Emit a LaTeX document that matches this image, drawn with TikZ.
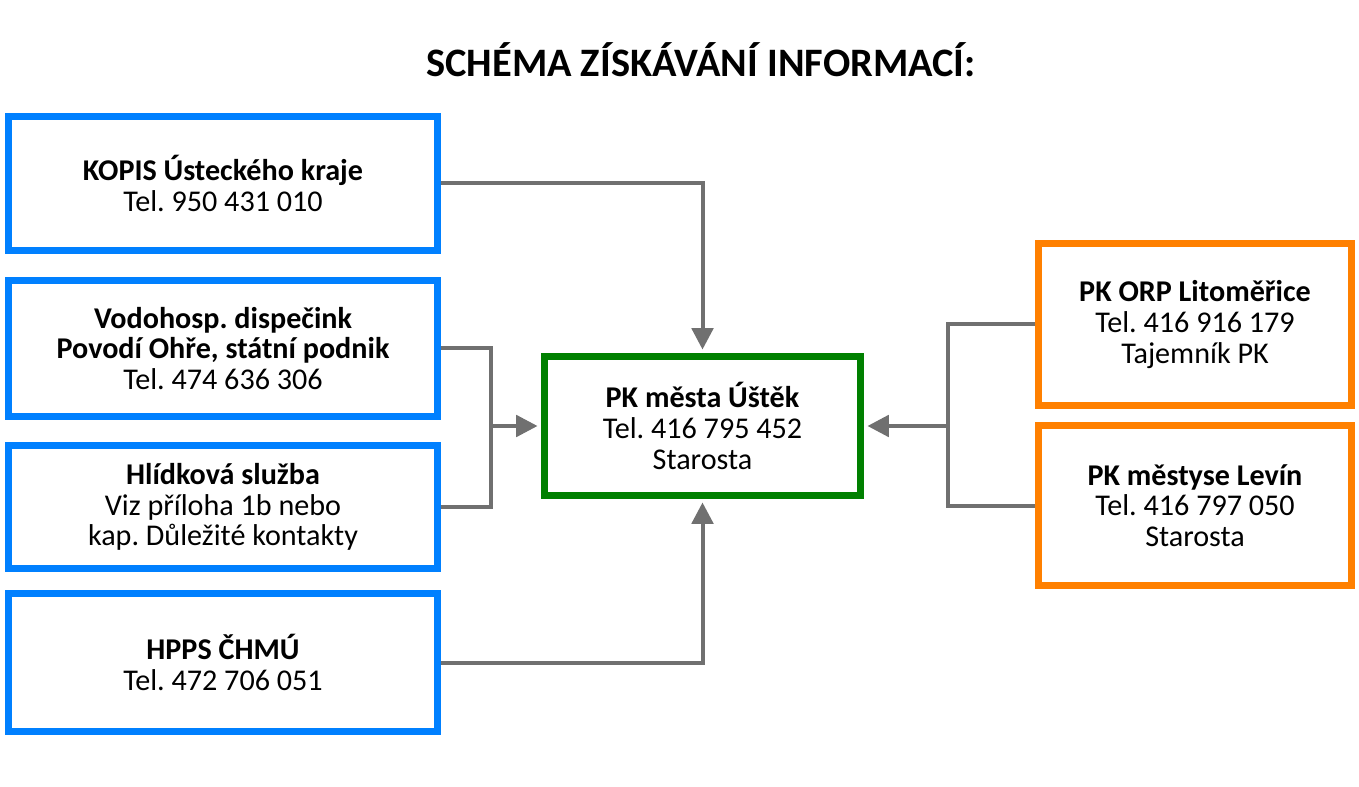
\documentclass[tikz,border=0pt]{standalone}
\usepackage{fontspec}
\setmainfont{Carlito}
\usetikzlibrary{arrows.meta}
\definecolor{cblue}{HTML}{0080FF}
\definecolor{cgreen}{HTML}{008000}
\definecolor{corange}{HTML}{FF8000}
\definecolor{cgray}{HTML}{707070}
\frenchspacing
\begin{document}
\begin{tikzpicture}[x=0.75pt,y=-0.75pt,
  box/.style={draw, line width=5.25pt, rectangle, inner sep=0pt, align=center,
    font=\fontsize{22.6pt}{23pt}\selectfont},
  bluebox/.style={box, draw=cblue, minimum width=321.75pt},
  orangebox/.style={box, draw=corange, minimum width=234.75pt},
  conn/.style={draw=cgray, line width=3pt},
  arr/.style={conn, -{Triangle[length=16pt,width=16pt]}, shorten >=2.6pt}
]
\useasboundingbox (0,0) rectangle (1359,787);
\node[font=\bfseries\fontsize{30.3pt}{32pt}\selectfont] (title) at (701,60) {SCHÉMA ZÍSKÁVÁNÍ INFORMACÍ:};
\node[bluebox, minimum height=100.5pt] (kopis) at (223,183.5) {\textbf{KOPIS Ústeckého kraje}\\Tel. 950 431 010};
\node[bluebox, minimum height=102pt] (vodo) at (223,348.5) {\textbf{Vodohosp. dispečink}\\\textbf{Povodí Ohře, státní podnik}\\Tel. 474 636 306};
\node[bluebox, minimum height=92.25pt] (hlid) at (223,507) {\textbf{Hlídková služba}\\Viz příloha 1b nebo\\kap. Důležité kontakty};
\node[bluebox, minimum height=103.5pt] (hpps) at (223,662.5) {\textbf{HPPS ČHMÚ}\\Tel. 472 706 051};
\node[box, draw=cgreen, minimum width=237pt, minimum height=104.25pt] (pk) at (702.5,426) {\textbf{PK města Úštěk}\\Tel. 416 795 452\\Starosta};
\node[orangebox, minimum height=121.5pt] (orp) at (1195,324.5) {\textbf{PK ORP Litoměřice}\\Tel. 416 916 179\\Tajemník PK};
\node[orangebox, minimum height=120pt] (levin) at (1195,505.5) {\textbf{PK městyse Levín}\\Tel. 416 797 050\\Starosta};
\coordinate (j1) at (491,426);
\coordinate (j2) at (948,426);
\draw[arr] (kopis.east) -| (pk.north);
\draw[conn] (vodo.east) -| (j1) |- (hlid.east);
\draw[arr] (j1) -- (pk.west);
\draw[arr] (hpps.east) -| (pk.south);
\draw[conn] (orp.west) -| (j2) |- (levin.west);
\draw[arr] (j2) -- (pk.east);
\end{tikzpicture}
\end{document}
